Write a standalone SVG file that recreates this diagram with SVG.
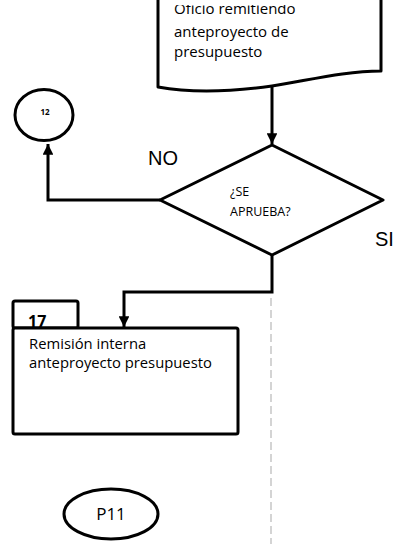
<svg xmlns="http://www.w3.org/2000/svg" width="398" height="544" viewBox="0 0 398 544">
  <defs>
    <marker id="arrow" viewBox="0 0 10 10" refX="10" refY="5" markerWidth="4.2" markerHeight="3.6" orient="auto" markerUnits="strokeWidth">
      <path d="M0,0 L10,5 L0,10 z" fill="#000"/>
    </marker>
    <clipPath id="sheet">
      <rect x="0" y="5" width="398" height="539"/>
    </clipPath>
    <style>
      .shape { fill: #fff; stroke: #000; stroke-width: 3; stroke-linejoin: round; }
      .edge { fill: none; stroke: #000; stroke-width: 3; }
      .lane { fill: none; stroke: #d4d4d4; stroke-width: 2; stroke-dasharray: 8 4; }
      .txt { font-family: "Open Sans", "Liberation Sans", sans-serif; fill: #000; }
      .lbl { font-family: "Liberation Sans", Arial, sans-serif; font-size: 20px; fill: #000; }
    </style>
  </defs>

  <!-- swimlane divider -->
  <line class="lane" x1="271" y1="298" x2="271" y2="544"/>

  <g id="connectors">
    <line class="edge" x1="272" y1="87" x2="272" y2="144" marker-end="url(#arrow)"/>
    <polyline class="edge" points="160,200 48,200 48,144" marker-end="url(#arrow)"/>
    <polyline class="edge" points="272,255 272,292 124,292 124,327" marker-end="url(#arrow)"/>
  </g>

  <!-- document: oficio -->
  <g id="doc-oficio">
    <path class="shape" d="M158,-6 V87 C190,93 230,92 272,86 C310,80 345,71 381,71 V-6"/>
    <g clip-path="url(#sheet)">
      <text class="txt" font-size="15" x="174" y="14">Oficio remitiendo</text>
    </g>
    <text class="txt" font-size="15" x="174" y="37">anteproyecto de</text>
    <text class="txt" font-size="15" x="174" y="57">presupuesto</text>
  </g>

  <!-- off-page connector 12 -->
  <g id="conn-12">
    <ellipse class="shape" cx="44" cy="115" rx="29" ry="25.5"/>
    <text class="txt" font-size="8" font-weight="bold" x="45" y="115" text-anchor="middle">12</text>
  </g>

  <!-- decision -->
  <g id="decision">
    <polygon class="shape" points="272,145 383,200 272,255 160,200"/>
    <text class="txt" font-size="12.5" x="230" y="196">¿SE</text>
    <text class="txt" font-size="12.5" x="230" y="216">APRUEBA?</text>
  </g>
  <text class="lbl" x="148" y="165">NO</text>
  <text class="lbl" x="375" y="246">SI</text>

  <!-- activity 17 -->
  <g id="act-17">
    <rect class="shape" x="13" y="301" width="65" height="27" rx="2"/>
    <rect class="shape" x="13" y="328" width="225" height="106" rx="2"/>
    <text class="txt" font-size="16" font-weight="bold" x="28" y="327">17</text>
    <text class="txt" font-size="14.8" x="29" y="349">Remisión interna</text>
    <text class="txt" font-size="14.8" x="29" y="368">anteproyecto presupuesto</text>
  </g>

  <!-- page connector P11 -->
  <g id="p11">
    <ellipse class="shape" cx="111" cy="514" rx="47" ry="25"/>
    <text class="txt" font-size="17" x="111" y="520" text-anchor="middle">P11</text>
  </g>
</svg>
